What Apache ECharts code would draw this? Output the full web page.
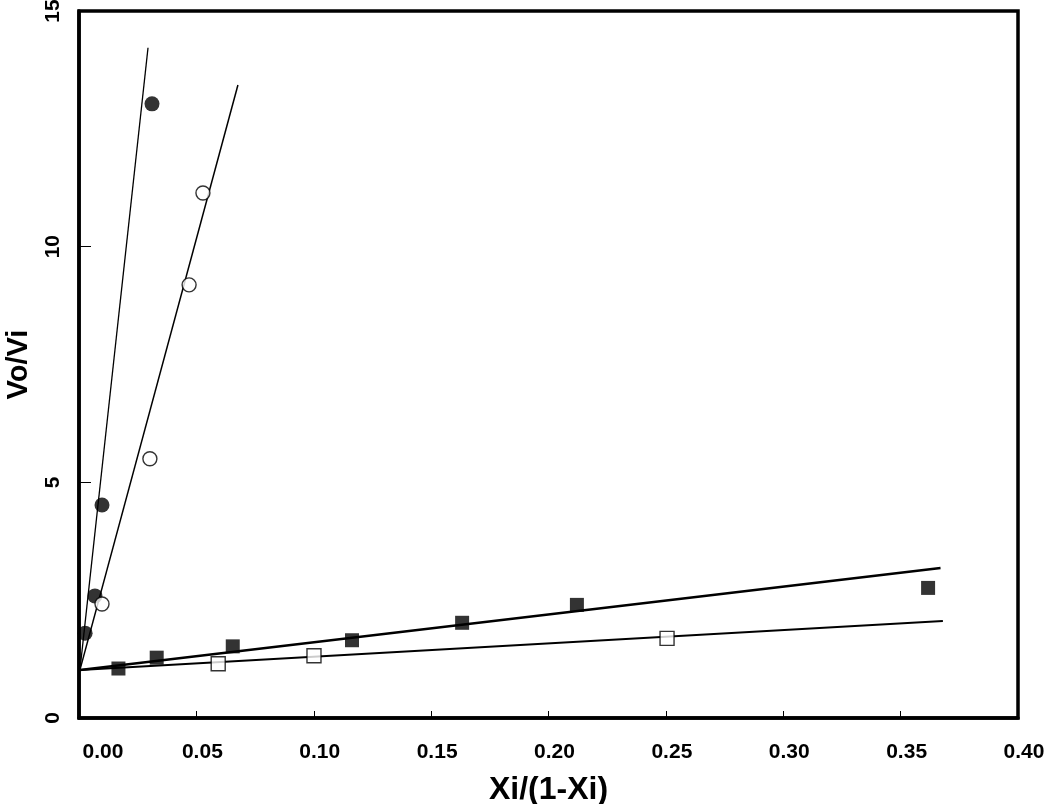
<!DOCTYPE html>
<html>
<head>
<meta charset="utf-8">
<script src="https://cdn.jsdelivr.net/npm/echarts@6/dist/echarts.min.js"></script>
<style>
  html, body { margin: 0; padding: 0; background: #fff; }
  #chart { width: 1050px; height: 804px; }
</style>
</head>
<body>
<div id="chart"></div>
<script>
// Data
const filledCircles = [[0.0026, 1.80], [0.0068, 2.59], [0.0098, 4.52], [0.0311, 13.03]];
const openCircles   = [[0.0098, 2.42], [0.0302, 5.50], [0.0469, 9.19], [0.0528, 11.14]];
const filledSquares = [[0.0168, 1.05], [0.0331, 1.28], [0.0655, 1.52], [0.1163, 1.65], [0.1632, 2.02], [0.2121, 2.40], [0.3617, 2.76]];
const openSquares   = [[0.0593, 1.15], [0.1001, 1.32], [0.2505, 1.69]];

// Fitted lines (end points)
const fitFilledCircles = [[0.0004, 1.02], [0.0294, 14.22]];
const fitOpenCircles   = [[0.0004, 1.02], [0.0677, 13.43]];
const fitFilledSquares = [[0.0004, 1.02], [0.367, 3.18]];
const fitOpenSquares   = [[0.0004, 1.02], [0.368, 2.06]];

const xTicks = { min: 0, max: 0.40, interval: 0.05 };
const yTicks = { min: 0, max: 15, interval: 5 };

const FONT = "'Liberation Sans', Arial, sans-serif";
const chart = echarts.init(document.getElementById('chart'));

function lineSeries(data, w) {
  return { type: 'line', data: data, symbol: 'none', silent: true, z: 2,
           lineStyle: { color: '#000', width: w } };
}
function scatterSeries(data, symbol, size, filled) {
  return { type: 'scatter', data: data, symbol: symbol, symbolSize: size, z: 3,
           itemStyle: filled ? { color: '#000' } : { color: '#fff', borderColor: '#000', borderWidth: 1.4 } };
}

chart.setOption({
  animation: false,
  backgroundColor: '#fff',
  grid: { left: 79, right: 32, top: 11, bottom: 86, containLabel: false, outerBoundsMode: 'none',
          show: true, borderColor: '#000', borderWidth: 3.5, backgroundColor: 'transparent' },
  xAxis: {
    type: 'value', min: xTicks.min, max: xTicks.max, interval: xTicks.interval,
    name: 'Xi/(1-Xi)', nameLocation: 'middle', nameGap: 56,
    nameTextStyle: { fontFamily: FONT, fontWeight: 'bold', fontSize: 32, color: '#000' },
    axisLine: { show: true, lineStyle: { color: '#000', width: 3.5 } },
    axisTick: { show: true, inside: true, length: 7, lineStyle: { color: '#000', width: 1 } },
    splitLine: { show: false },
    axisLabel: {
      margin: 24, color: '#000', fontFamily: FONT, fontWeight: 'bold', fontSize: 21,
      padding: [0, 0, 0, 12],
      formatter: function (v) { return v === 0 ? '{z|0.00}' : v.toFixed(2); },
      rich: { z: { padding: [0, 0, 0, 36], color: '#000', fontFamily: FONT, fontWeight: 'bold', fontSize: 21 } }
    }
  },
  yAxis: {
    type: 'value', min: yTicks.min, max: yTicks.max, interval: yTicks.interval,
    name: 'Vo/Vi', nameLocation: 'middle', nameGap: 46, nameRotate: 90,
    nameTextStyle: { fontFamily: FONT, fontWeight: 'bold', fontSize: 29, color: '#000' },
    axisLine: { show: true, lineStyle: { color: '#000', width: 3.5 } },
    axisTick: { show: true, inside: true, length: 12, lineStyle: { color: '#000', width: 1 } },
    splitLine: { show: false },
    axisLabel: { rotate: 90, margin: 15, color: '#000', fontFamily: FONT, fontWeight: 'bold', fontSize: 21 }
  },
  series: [
    lineSeries(fitFilledCircles, 1.3),
    lineSeries(fitOpenCircles, 1.5),
    lineSeries(fitFilledSquares, 2.5),
    lineSeries(fitOpenSquares, 2),
    scatterSeries(filledCircles, 'circle', 15, true),
    scatterSeries(openCircles, 'circle', 14, false),
    scatterSeries(filledSquares, 'rect', 14, true),
    scatterSeries(openSquares, 'rect', 14, false)
  ]
});
</script>
</body>
</html>
